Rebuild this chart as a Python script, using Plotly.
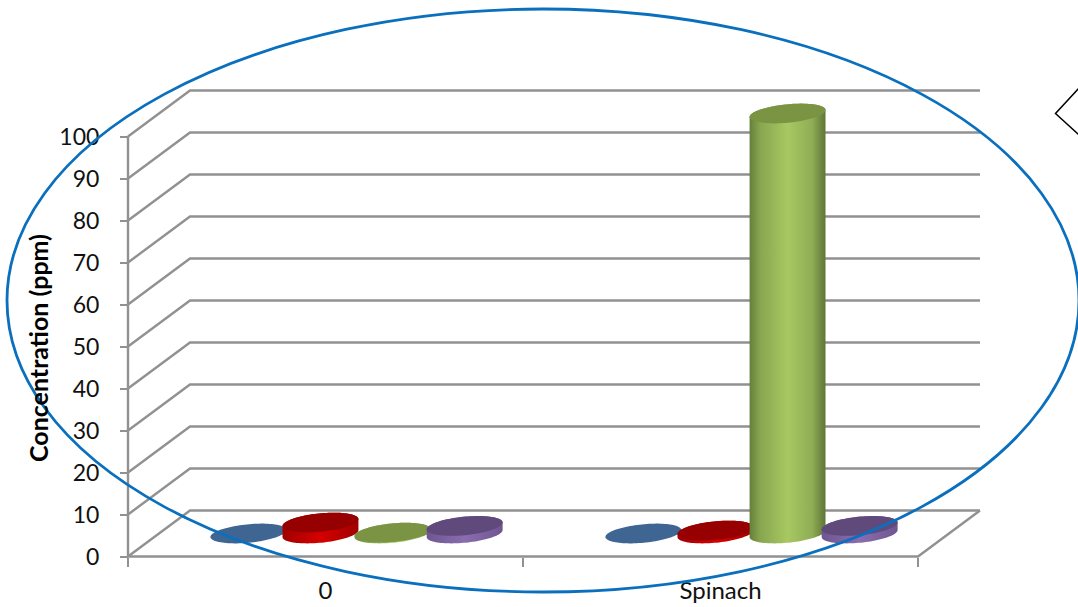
import numpy as np
import plotly.graph_objects as go

# Chart data
categories = ["0", "Spinach"]
blue_values = [0.0, 0.0]
red_values = [2.6, 0.7]
green_values = [0.2, 100.0]
purple_values = [1.8, 1.8]
y_ticks = list(range(0, 101, 10))
y_title = "Concentration (ppm)"

# Page and oblique projection set-up, in pixels
W, H = 1078, 607
X0_PX, Y0_PX = 128.0, 556.5      # front-left corner of the floor
CAT_PX, UNIT_PX = 395.0, 4.2     # one category, one y unit
DEPTH_X, DEPTH_Y = 62.0 / CAT_PX, 46.0 / UNIT_PX  # full depth, in axis units

GRID = "#919191"
TICK_FONT = dict(family="Lato, Carlito, sans-serif", size=23, color="#111111")
CAT_FONT = dict(family="Lato, Carlito, sans-serif", size=24, color="#111111")

series_styles = [
    (blue_values, "#3F6592", [[0, "#34557c"], [0.5, "#4a77aa"], [1, "#34557c"]]),
    (red_values, "#960000", [[0, "#a00000"], [0.5, "#d60000"], [1, "#a00000"]]),
    (green_values, "#7A9444", [[0, "#64803a"], [0.14, "#88a650"], [0.5, "#a7c862"],
                               [0.82, "#90ae55"], [1, "#5f7636"]]),
    (purple_values, "#604A7B", [[0, "#6f5690"], [0.5, "#8a6cb0"], [1, "#6f5690"]]),
]

BAR_WIDTH = 0.18     # category units
BAR_STEP = 0.1825
BAR_DEPTH = 0.43     # fraction of the floor depth


def project(x, y, z):
    """Shift a point in the chart box by its depth z (0 front, 1 back)."""
    return x + z * DEPTH_X, y + z * DEPTH_Y


def ring(cx, value, t):
    a = BAR_WIDTH / 2
    z = BAR_DEPTH / 2 * np.sin(t)
    return project(cx + a * np.cos(t), value, 0.5 + z)


fig = go.Figure()


def add_line(xs, ys):
    fig.add_trace(go.Scatter(x=xs, y=ys, mode="lines", hoverinfo="skip",
                             line=dict(color=GRID, width=2.4)))


# Wall gridlines: side wall then back wall at every tick
n_cat = len(categories)
for tick in y_ticks:
    bx, by = project(0, tick, 1)
    ex, ey = project(n_cat, tick, 1)
    add_line([0, bx, ex], [tick, by, ey])

# Floor edges and front axis lines
rx, ry = project(n_cat, 0, 1)
add_line([rx, n_cat, 0], [ry, 0, 0])
add_line([0, 0], [0, y_ticks[-1]])

# Cylinders, one series after another so later ones sit in front
b_half = BAR_WIDTH / 2
d_half = BAR_DEPTH / 2 * DEPTH_X
t0 = np.arctan2(d_half, b_half)
for s, (values, cap_color, scale) in enumerate(series_styles):
    for c, value in enumerate(values):
        cx = c + 0.5 + (s - 1.5) * BAR_STEP
        lower = np.linspace(t0 + np.pi, t0 + 2 * np.pi, 50)
        upper = np.linspace(t0, t0 + np.pi, 50)
        bx, by = ring(cx, 0, lower)
        tx, ty = ring(cx, value, upper)
        if value > 0:
            fig.add_trace(go.Scatter(
                x=np.concatenate([bx, tx]), y=np.concatenate([by, ty]),
                mode="none", fill="toself", hoverinfo="skip",
                fillgradient=dict(type="horizontal", colorscale=scale)))
        ang = np.linspace(0, 2 * np.pi, 100)
        ex, ey = ring(cx, value, ang)
        fig.add_trace(go.Scatter(x=ex, y=ey, mode="none", fill="toself",
                                 fillcolor=cap_color, hoverinfo="skip"))

# Free-floating outline around the chart and the partly visible diamond
shapes = [
    dict(type="circle", xref="paper", yref="paper", layer="above",
         x0=7 / W, x1=1079 / W, y0=1 - 592 / H, y1=1 - 9 / H,
         line=dict(color="#0A70BE", width=2.8)),
    dict(type="path", xref="paper", yref="paper", layer="above",
         path=f"M {1079/W} {1-88/H} L {1055.5/W} {1-113.5/H} L {1079/W} {1-135/H}",
         line=dict(color="#000000", width=1.5)),
]

annotations = [
    dict(text=f"<b>{y_title}</b>", xref="paper", yref="paper",
         x=38 / W, y=1 - 348 / H, xanchor="center", yanchor="middle",
         textangle=-90, showarrow=False,
         font=dict(family="Lato, Carlito, sans-serif", size=25, color="#000000")),
]

fig.update_layout(
    width=W, height=H, autosize=False,
    margin=dict(l=0, r=0, t=0, b=0),
    paper_bgcolor="white", plot_bgcolor="white",
    showlegend=False, hovermode=False,
    shapes=shapes, annotations=annotations,
    xaxis=dict(
        range=[-X0_PX / CAT_PX, (W - X0_PX) / CAT_PX],
        domain=[0, 1], anchor="free", position=(H - Y0_PX) / H,
        showgrid=False, zeroline=False, showline=False,
        tickmode="array", tickvals=[i + 0.5 for i in range(n_cat)],
        ticktext=categories, ticks="", tickfont=CAT_FONT,
        ticklabelstandoff=17,
        minor=dict(tickmode="array", tickvals=list(range(n_cat + 1)),
                   ticks="outside", ticklen=9, tickwidth=2, tickcolor=GRID,
                   showgrid=False),
    ),
    yaxis=dict(
        range=[(Y0_PX - H) / UNIT_PX, Y0_PX / UNIT_PX],
        domain=[0, 1], anchor="free", position=X0_PX / W,
        showgrid=False, zeroline=False, showline=False,
        tickmode="array", tickvals=y_ticks, ticks="outside",
        ticklen=8, tickwidth=2, tickcolor=GRID, tickfont=TICK_FONT,
        ticklabelstandoff=16,
    ),
)

fig.write_html("out.html", config=dict(displayModeBar=False))
